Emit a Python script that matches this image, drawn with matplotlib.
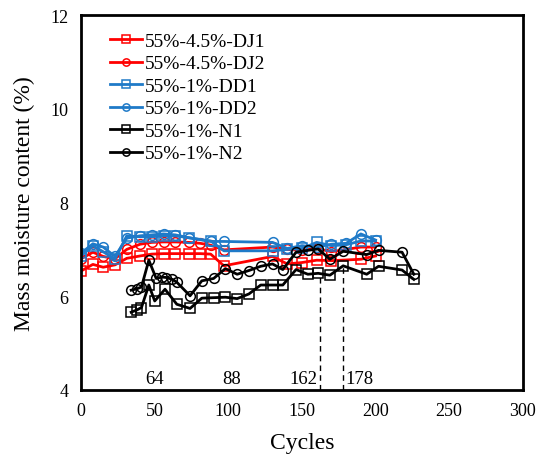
import matplotlib.pyplot as plt

plt.rcParams['font.family'] = ['Liberation Serif', 'DejaVu Serif']

# DJ1 / DJ2 (red)
dj_x = [0, 8, 15, 23, 31, 40, 48, 56, 64, 73, 81, 88, 97, 130, 140, 150, 160, 170, 190, 200]
dj1_y = [6.54, 6.68, 6.62, 6.67, 6.81, 6.86, 6.90, 6.91, 6.91, 6.91, 6.91, 6.90, 6.65,
         6.85, 6.69, 6.72, 6.77, 6.76, 6.79, 6.86]
dj2_y = [6.80, 6.94, 6.85, 6.80, 7.00, 7.11, 7.15, 7.16, 7.16, 7.15, 7.13, 7.09, 6.99,
         7.05, 7.00, 6.98, 7.02, 6.95, 7.05, 7.05]

# DD1 / DD2 (blue)
dd_x = [0, 8, 15, 23, 31, 40, 48, 56, 64, 73, 88, 97, 130, 140, 150, 160, 170, 180, 190, 200]
dd1_y = [6.86, 7.08, 6.95, 6.79, 7.29, 7.27, 7.27, 7.29, 7.29, 7.25, 7.18, 6.97,
         6.97, 7.00, 7.02, 7.15, 7.08, 7.10, 7.18, 7.18]
dd2_y = [6.92, 7.12, 7.05, 6.85, 7.24, 7.29, 7.31, 7.33, 7.31, 7.25, 7.17, 7.17,
         7.15, 7.02, 7.08, 7.05, 7.11, 7.13, 7.33, 7.20]

# N1 (black squares)
n1_x = [34, 38, 41, 46, 50, 57, 65, 74, 82, 90, 98, 106, 114, 122, 130, 137, 146, 154,
        161, 169, 178, 194, 202, 218, 226]
n1_y = [5.66, 5.71, 5.76, 6.24, 5.90, 6.15, 5.83, 5.74, 5.96, 5.97, 5.98, 5.95, 6.05,
        6.24, 6.24, 6.24, 6.57, 6.47, 6.49, 6.45, 6.65, 6.47, 6.64, 6.56, 6.36]

# N2 (black circles)
n2_x = [34, 38, 41, 46, 51, 55, 58, 62, 65, 74, 82, 90, 98, 106, 114, 122, 130, 137,
        146, 154, 161, 169, 178, 194, 202, 218, 226]
n2_y = [6.13, 6.16, 6.20, 6.77, 6.38, 6.41, 6.40, 6.36, 6.30, 6.01, 6.33, 6.38, 6.59,
        6.47, 6.55, 6.64, 6.69, 6.57, 6.94, 6.98, 7.01, 6.79, 6.96, 6.89, 6.98, 6.94, 6.47]

# marked cycles
mark_x = [162, 178]
mark_top = [6.49, 6.65]

red = '#FF0000'
blue = '#1F7AC8'

fig = plt.figure(figsize=(5.48, 4.6), dpi=100)
ax = fig.add_axes([0.148, 0.15, 0.806, 0.815])

mk = dict(markerfacecolor='none', markersize=7, markeredgewidth=1.1, linewidth=2)
ax.plot(dj_x, dj1_y, color=red, marker='s', label='55%-4.5%-DJ1', **mk)
ax.plot(dj_x, dj2_y, color=red, marker='o', label='55%-4.5%-DJ2', **mk)
ax.plot(dd_x, dd1_y, color=blue, marker='s', label='55%-1%-DD1', **mk)
ax.plot(dd_x, dd2_y, color=blue, marker='o', label='55%-1%-DD2', **mk)
ax.plot(n1_x, n1_y, color='black', marker='s', label='55%-1%-N1', **mk)
ax.plot(n2_x, n2_y, color='black', marker='o', label='55%-1%-N2', **mk)

for xv, yt in zip(mark_x, mark_top):
    ax.plot([xv, xv], [4, yt], color='black', linestyle='--', linewidth=1, dashes=(4, 3))

ax.text(50, 4.06, '64', ha='center', va='bottom', fontsize=13.5)
ax.text(102, 4.06, '88', ha='center', va='bottom', fontsize=13.5)
ax.text(160.5, 4.06, '162', ha='right', va='bottom', fontsize=13.5)
ax.text(179.5, 4.06, '178', ha='left', va='bottom', fontsize=13.5)

ax.set_xlim(0, 300)
ax.set_ylim(4, 12)
ax.set_xticks(range(0, 301, 50))
ax.set_yticks([4, 6, 8, 10, 12])
ax.tick_params(length=0, labelsize=13, pad=9)
for s in ax.spines.values():
    s.set_linewidth(2)

ax.set_xlabel('Cycles', fontsize=17, labelpad=9)
ax.set_ylabel('Mass moisture content (%)', fontsize=17, labelpad=11)

leg = ax.legend(loc='upper left', bbox_to_anchor=(0.04, 0.985), frameon=False, fontsize=14,
                handlelength=1.6, handletextpad=0.15, labelspacing=0.25, markerscale=0.75,
                borderaxespad=0.2)

fig.savefig('out.png', dpi=100)
